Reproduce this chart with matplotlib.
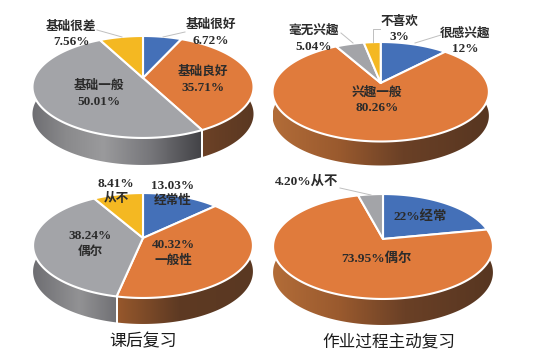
import numpy as np
import matplotlib
matplotlib.use("Agg")
import matplotlib.pyplot as plt
from matplotlib.patches import Polygon
from matplotlib.colors import to_rgb

# ---- data ----
cats_a = ["基础很好", "基础良好", "基础一般", "基础很差"]
vals_a = [6.72, 35.71, 50.01, 7.56]
text_a = ["6.72%", "35.71%", "50.01%", "7.56%"]

cats_b = ["很感兴趣", "兴趣一般", "毫无兴趣", "不喜欢"]
vals_b = [12, 80.26, 5.04, 3]
text_b = ["12%", "80.26%", "5.04%", "3%"]

cats_c = ["经常性", "一般性", "偶尔", "从不"]
vals_c = [13.03, 40.32, 38.24, 8.41]
text_c = ["13.03%", "40.32%", "38.24%", "8.41%"]

cats_d = ["经常", "偶尔", "从不"]
vals_d = [22, 73.95, 4.20]
text_d = ["22%", "73.95%", "4.20%"]

title_c = "课后复习"
title_d = "作业过程主动复习"

BLUE, ORANGE, GRAY, YELLOW = "#4470B8", "#E07B3C", "#A3A4A8", "#F4B822"
FONT = ["Liberation Serif", "Noto Sans CJK SC"]

# wall shading of each slice, left to right across the slice
GRAY_WIDE = ([0.0, 0.2, 0.42, 0.7, 1.0], ["#6E6E72", "#8A8A8C", "#9A9A9C", "#76767A", "#424246"])
GRAY_NARROW = ([0.0, 0.55, 1.0], ["#6E6E72", "#929294", "#707074"])
BROWN_WIDE = ([0.0, 0.3, 0.6, 1.0], ["#B26C38", "#9A5A2E", "#6A4026", "#573621"])
BROWN_MID = ([0.0, 0.45, 1.0], ["#97582C", "#5E3A23", "#5A3822"])
BROWN_NARROW = ([0.0, 1.0], ["#6C4126", "#5A3822"])

fig = plt.figure(figsize=(5.35, 3.56), dpi=100, facecolor="white")
ax = fig.add_axes([0, 0, 1, 1])


def project(theta, cx, cy, a, b, p):
    """Clockwise angle from 12 o'clock on the disc -> picture position."""
    x, y = np.sin(theta), np.cos(theta)
    w = 1 + p * y
    return cx + a * x / w, cy - b * y / w


def pie3d(values, colours, cx, cy, a, b, p, depth, shades):
    values = np.asarray(values, float)
    edges = np.concatenate([[0], np.cumsum(values) / values.sum()]) * 2 * np.pi
    for t0, t1, col in zip(edges[:-1], edges[1:], colours):
        lo, hi = max(t0, np.pi / 2 - 0.18), min(t1, 3 * np.pi / 2 + 0.18)
        if hi > lo and col in shades:
            th = np.linspace(lo, hi, 240)
            xs, ys = project(th, cx, cy, a, b, p)
            poly = Polygon(np.c_[np.r_[xs, xs[::-1]], np.r_[ys, ys[::-1] + depth]],
                           closed=True, transform=ax.transData, facecolor="none", edgecolor="none")
            ax.add_patch(poly)
            x0, x1 = xs.min(), xs.max()
            pos, stops = shades[col]
            rgb = np.array([to_rgb(c) for c in stops])
            f = np.linspace(0, 1, 256)
            img = np.stack([np.interp(f, pos, rgb[:, i]) for i in range(3)], axis=1)[None, :, :]
            im = ax.imshow(img, extent=(x0, x1, ys.max() + depth + 1, ys.min() - 1),
                           aspect="auto", zorder=1, interpolation="bilinear")
            im.set_clip_path(poly)
            for tb in (t0, t1):
                if np.pi / 2 < tb < 3 * np.pi / 2:
                    xb, yb = project(tb, cx, cy, a, b, p)
                    ax.plot([xb, xb], [yb, yb + depth + 1], color="white", lw=1.4,
                            zorder=1.5, solid_capstyle="butt")
    for t0, t1, col in zip(edges[:-1], edges[1:], colours):
        th = np.linspace(t0, t1, 200)
        xs, ys = project(th, cx, cy, a, b, p)
        ax.fill(np.r_[cx, xs], np.r_[cy, ys], facecolor=col, edgecolor="white",
                linewidth=1.5, joinstyle="round", zorder=2)


def label(x, y, s, size=9.1):
    ax.text(x, y, s, ha="center", va="center", fontsize=size, family=FONT,
            fontweight="bold", color="#2b2b2b", zorder=5)


def leader(xs, ys):
    ax.plot(xs, ys, color="#BFBFBF", lw=0.7, zorder=4)


pie3d(vals_a, [BLUE, ORANGE, GRAY, YELLOW], 143, 78, 108.8, 49.4, 0.176, 27,
      {GRAY: GRAY_WIDE, ORANGE: BROWN_NARROW})
pie3d(vals_b, [BLUE, ORANGE, GRAY, YELLOW], 380.7, 83, 106.5, 48.2, 0.176, 24,
      {ORANGE: BROWN_WIDE})
pie3d(vals_c, [BLUE, ORANGE, GRAY, YELLOW], 143, 238, 108.8, 51.4, 0.143, 26,
      {GRAY: GRAY_NARROW, ORANGE: BROWN_MID})
pie3d(vals_d, [BLUE, ORANGE, GRAY], 383, 239, 108.8, 51.4, 0.143, 26,
      {ORANGE: BROWN_WIDE})

NUM = 9.5
pos_a = [(211, 25, 41), (203, 72, 88), (99, 86, 102), (71, 27, 42)]
for c, t, (x, y1, y2) in zip(cats_a, text_a, pos_a):
    label(x, y1, c)
    label(x, y2, t, NUM)
leader([163, 185], [37, 32])
leader([97, 122], [30, 37])

pos_b = [(465, 33, 49), (377, 93, 108), (314, 31, 47), (399, 22, 37)]
for c, t, (x, y1, y2) in zip(cats_b, text_b, pos_b):
    label(x, y1, c)
    label(x, y2, t, NUM)
leader([415, 441], [43, 35])
leader([341, 353], [33, 43])
leader([380, 373, 373], [29, 29, 42])

pos_c = [(173, 186, 201), (173, 245, 261), (90, 236, 252), (116, 184, 199)]
for c, t, (x, y1, y2) in zip(cats_c, text_c, pos_c):
    label(x, y1, t, NUM)
    label(x, y2, c)

label(420, 217, text_d[0] + cats_d[0], 9.6)
label(376, 259, text_d[1] + cats_d[1], 9.6)
label(307, 182, text_d[2] + cats_d[2], 9.6)
leader([340, 371], [188, 195])

ax.text(143, 342, title_c, ha="center", va="center", fontsize=12.2, family=FONT, color="#1a1a1a")
ax.text(389, 342, title_d, ha="center", va="center", fontsize=12.0, family=FONT, color="#1a1a1a")

ax.set_xlim(0, 535)
ax.set_ylim(356, 0)
ax.axis("off")

fig.savefig("out.png", dpi=100, facecolor="white")
